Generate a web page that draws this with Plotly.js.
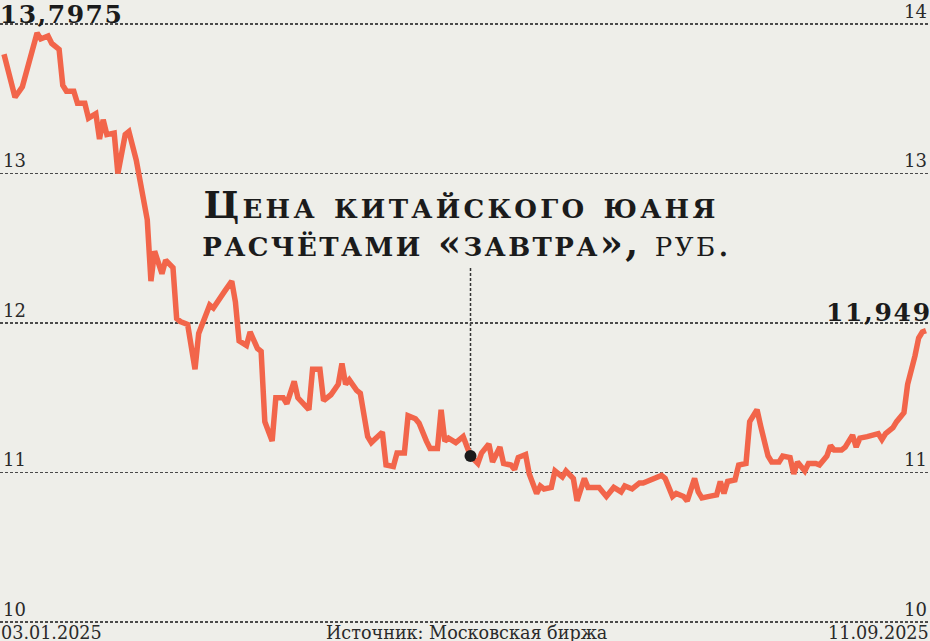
<!DOCTYPE html>
<html>
<head>
<meta charset="utf-8">
<script src="https://cdn.plot.ly/plotly-3.0.1.min.js"></script>
<style>
  html, body { margin: 0; padding: 0; background: #eeeee9; }
  #chart { width: 930px; height: 641px; }
  .annotation[data-index="0"] text { letter-spacing: 3.25px; }
  .annotation[data-index="1"] text { letter-spacing: 2.4px; }
  .annotation[data-index="2"] text { letter-spacing: 1.5px; }
  .annotation[data-index="3"] text { letter-spacing: 1.7px; }
</style>
</head>
<body>
<div id="chart"></div>
<script>
// Daily CNY/RUB ("tomorrow" settlement) rate, Moscow Exchange
const days = [
  '01-03','01-06','01-08','01-12','01-13','01-15','01-16','01-18','01-19','01-20',
  '01-22','01-23','01-25','01-26','01-28','01-29','01-30','01-31','02-02','02-03',
  '02-05','02-06','02-08','02-09','02-11','02-12','02-13','02-15','02-16','02-18',
  '02-19','02-20','02-22','02-24','02-25','02-28','03-01','03-04','03-06','03-07',
  '03-08','03-10','03-11','03-13','03-14','03-15','03-17','03-18','03-20','03-21',
  '03-23','03-24','03-27','03-28','03-30','03-31','04-02','04-04','04-05','04-06',
  '04-07','04-09','04-10','04-12','04-13','04-16','04-17','04-19','04-20','04-22',
  '04-23','04-25','04-26','04-28','04-29','05-01','05-02','05-03','05-04','05-06',
  '05-08','05-10','05-12','05-13','05-15','05-16','05-18','05-19','05-21','05-22',
  '05-23','05-25','05-26','05-28','05-29','05-30','06-01','06-02','06-04','06-05',
  '06-07','06-08','06-10','06-11','06-14','06-16','06-18','06-20','06-21','06-23',
  '06-25','06-26','06-28','06-29','07-01','07-02','07-04','07-05','07-07','07-08',
  '07-10','07-11','07-12','07-14','07-16','07-17','07-18','07-19','07-21','07-22',
  '07-24','07-25','07-27','07-28','07-29','07-30','07-31','08-02','08-03','08-05',
  '08-06','08-07','08-09','08-10','08-12','08-13','08-15','08-16','08-17','08-19',
  '08-20','08-22','08-23','08-24','08-26','08-27','08-29','08-30','08-31','09-02',
  '09-03','09-05','09-06','09-08','09-09','09-10','09-11'
];
const rates = [
  13.7975, 13.51, 13.58, 13.94, 13.90, 13.92, 13.87, 13.83, 13.59, 13.55,
  13.55, 13.47, 13.47, 13.37, 13.40, 13.23, 13.36, 13.26, 13.27, 13.00,
  13.26, 13.28, 13.09, 12.94, 12.69, 12.28, 12.48, 12.33, 12.42, 12.37,
  12.03, 12.01, 11.99, 11.69, 11.93, 12.12, 12.10, 12.21, 12.28, 12.14,
  11.88, 11.85, 11.94, 11.83, 11.81, 11.34, 11.21, 11.50, 11.50, 11.46,
  11.61, 11.50, 11.42, 11.69, 11.69, 11.48, 11.52, 11.59, 11.73, 11.59,
  11.62, 11.55, 11.53, 11.24, 11.20, 11.27, 11.05, 11.04, 11.13, 11.13,
  11.38, 11.36, 11.33, 11.21, 11.16, 11.16, 11.42, 11.21, 11.23, 11.20,
  11.24, 11.11, 11.06, 11.13, 11.19, 11.07, 11.17, 11.06, 11.05, 11.02,
  11.10, 11.12, 10.99, 10.86, 10.91, 10.89, 10.90, 11.01, 10.97, 11.01,
  10.96, 10.81, 10.96, 10.90, 10.90, 10.84, 10.90, 10.87, 10.91, 10.89,
  10.93, 10.93, 10.95, 10.96, 10.98, 10.96, 10.84, 10.86, 10.84, 10.81,
  10.96, 10.87, 10.83, 10.84, 10.85, 10.94, 10.86, 10.94, 10.95, 11.05,
  11.06, 11.34, 11.42, 11.31, 11.19, 11.11, 11.07, 11.07, 11.11, 11.10,
  10.99, 11.07, 11.01, 11.06, 11.06, 11.05, 11.11, 11.18, 11.15, 11.15,
  11.17, 11.25, 11.17, 11.23, 11.24, 11.25, 11.26, 11.22, 11.26, 11.30,
  11.34, 11.40, 11.59, 11.78, 11.90, 11.94, 11.949
];
const tickVals = [10, 11, 12, 13, 14];
const leftTickText = ['10', '11', '12', '13', ''];
const rightTickText = ['10', '11', '', '13', '14'];
const titleLine1 = 'Цена китайского юаня';
const titleLine2 = 'расчётами «завтра»,';
const titleUnit = 'руб.';
const sourceText = 'Источник: Московская биржа';
const markedDay = '05-10';

const dates = days.map(d => '2025-' + d);
const markIdx = days.indexOf(markedDay);
const last = rates.length - 1;
const fmt = (v, n) => v.toFixed(n).replace('.', ',');
const dmy = s => s.slice(8, 10) + '.' + s.slice(5, 7) + '.' + s.slice(0, 4);

const ink = '#1b1b1b';
const labelCol = '#2a2a2a';
const gridCol = '#4a4a4a';
const serif = 'DejaVu Serif';

const traces = [
  {
    x: dates, y: rates, type: 'scatter', mode: 'lines',
    line: { color: '#f2654a', width: 5.5, shape: 'linear' },
    hoverinfo: 'skip'
  },
  {
    x: [dates[markIdx]], y: [rates[markIdx]], type: 'scatter', mode: 'markers',
    marker: { color: ink, size: 12 }, hoverinfo: 'skip'
  },
  {
    x: [dates[0]], y: [rates[0]], yaxis: 'y2', type: 'scatter', mode: 'markers',
    marker: { opacity: 0 }, hoverinfo: 'skip'
  }
];

const yRange = [9.9732, 14.1605];
const layout = {
  width: 930, height: 641,
  margin: { l: 0, r: 0, t: 0, b: 15 },
  paper_bgcolor: '#eeeee9', plot_bgcolor: '#eeeee9',
  showlegend: false,
  xaxis: {
    type: 'date',
    range: ['2025-01-01 21:50', '2025-09-12 02:10'],
    showgrid: false, zeroline: false, showticklabels: false, ticks: '', showline: false
  },
  yaxis: {
    range: yRange,
    tickvals: tickVals, ticktext: leftTickText,
    ticklabelposition: 'inside top',
    tickfont: { family: serif, size: 18, color: labelCol },
    showgrid: true, gridcolor: gridCol, gridwidth: 1.5, griddash: '3px,2px',
    zeroline: false, showline: false, ticks: ''
  },
  yaxis2: {
    range: yRange, overlaying: 'y', side: 'right',
    tickvals: tickVals, ticktext: rightTickText,
    ticklabelposition: 'inside top',
    tickfont: { family: serif, size: 18, color: labelCol },
    showgrid: false, zeroline: false, showline: false, ticks: ''
  },
  shapes: [
    {
      type: 'line', xref: 'x', yref: 'y',
      x0: dates[markIdx], x1: dates[markIdx], y0: rates[markIdx], y1: 12.37,
      line: { color: '#333', width: 1.5, dash: '3px,2px' }, layer: 'below'
    }
  ],
  annotations: [
    {
      text: '<b>' + titleLine1 + '</b>', xref: 'paper', yref: 'y',
      x: 460.5 / 930, y: 12.635, xanchor: 'center', yanchor: 'bottom',
      showarrow: false, borderpad: 0,
      font: { family: serif, size: 37, color: ink, variant: 'small-caps' }
    },
    {
      text: '<b>' + titleLine2 + '</b> ' + titleUnit, xref: 'paper', yref: 'y',
      x: 466.5 / 930, y: 12.381, xanchor: 'center', yanchor: 'bottom',
      showarrow: false, borderpad: 0,
      font: { family: serif, size: 37, color: ink, variant: 'small-caps' }
    },
    {
      text: '<b>' + fmt(rates[0], 4) + '</b>', xref: 'paper', yref: 'y',
      x: 0, y: 14, xanchor: 'left', yanchor: 'bottom', xshift: 4, yshift: -6,
      showarrow: false, borderpad: 0,
      font: { family: serif, size: 25, color: ink }
    },
    {
      text: '<b>' + fmt(rates[last], 3) + '</b>', xref: 'paper', yref: 'y',
      x: 1, y: 12, xanchor: 'right', yanchor: 'bottom', xshift: -2, yshift: -5,
      showarrow: false, borderpad: 0,
      font: { family: serif, size: 25, color: ink }
    },
    {
      text: dmy(dates[0]), xref: 'paper', yref: 'y',
      x: 0, y: 10, xanchor: 'left', yanchor: 'top', showarrow: false, borderpad: 0,
      font: { family: serif, size: 17.6, color: labelCol }
    },
    {
      text: dmy(dates[last]), xref: 'paper', yref: 'y',
      x: 1, y: 10, xanchor: 'right', yanchor: 'top', showarrow: false, borderpad: 0,
      font: { family: serif, size: 17.6, color: labelCol }
    },
    {
      text: sourceText, xref: 'paper', yref: 'y',
      x: 466 / 930, y: 10, xanchor: 'center', yanchor: 'top', showarrow: false, borderpad: 0,
      font: { family: serif, size: 17.6, color: labelCol }
    }
  ]
};

Plotly.newPlot('chart', traces, layout, { staticPlot: true, displayModeBar: false });
</script>
</body>
</html>
